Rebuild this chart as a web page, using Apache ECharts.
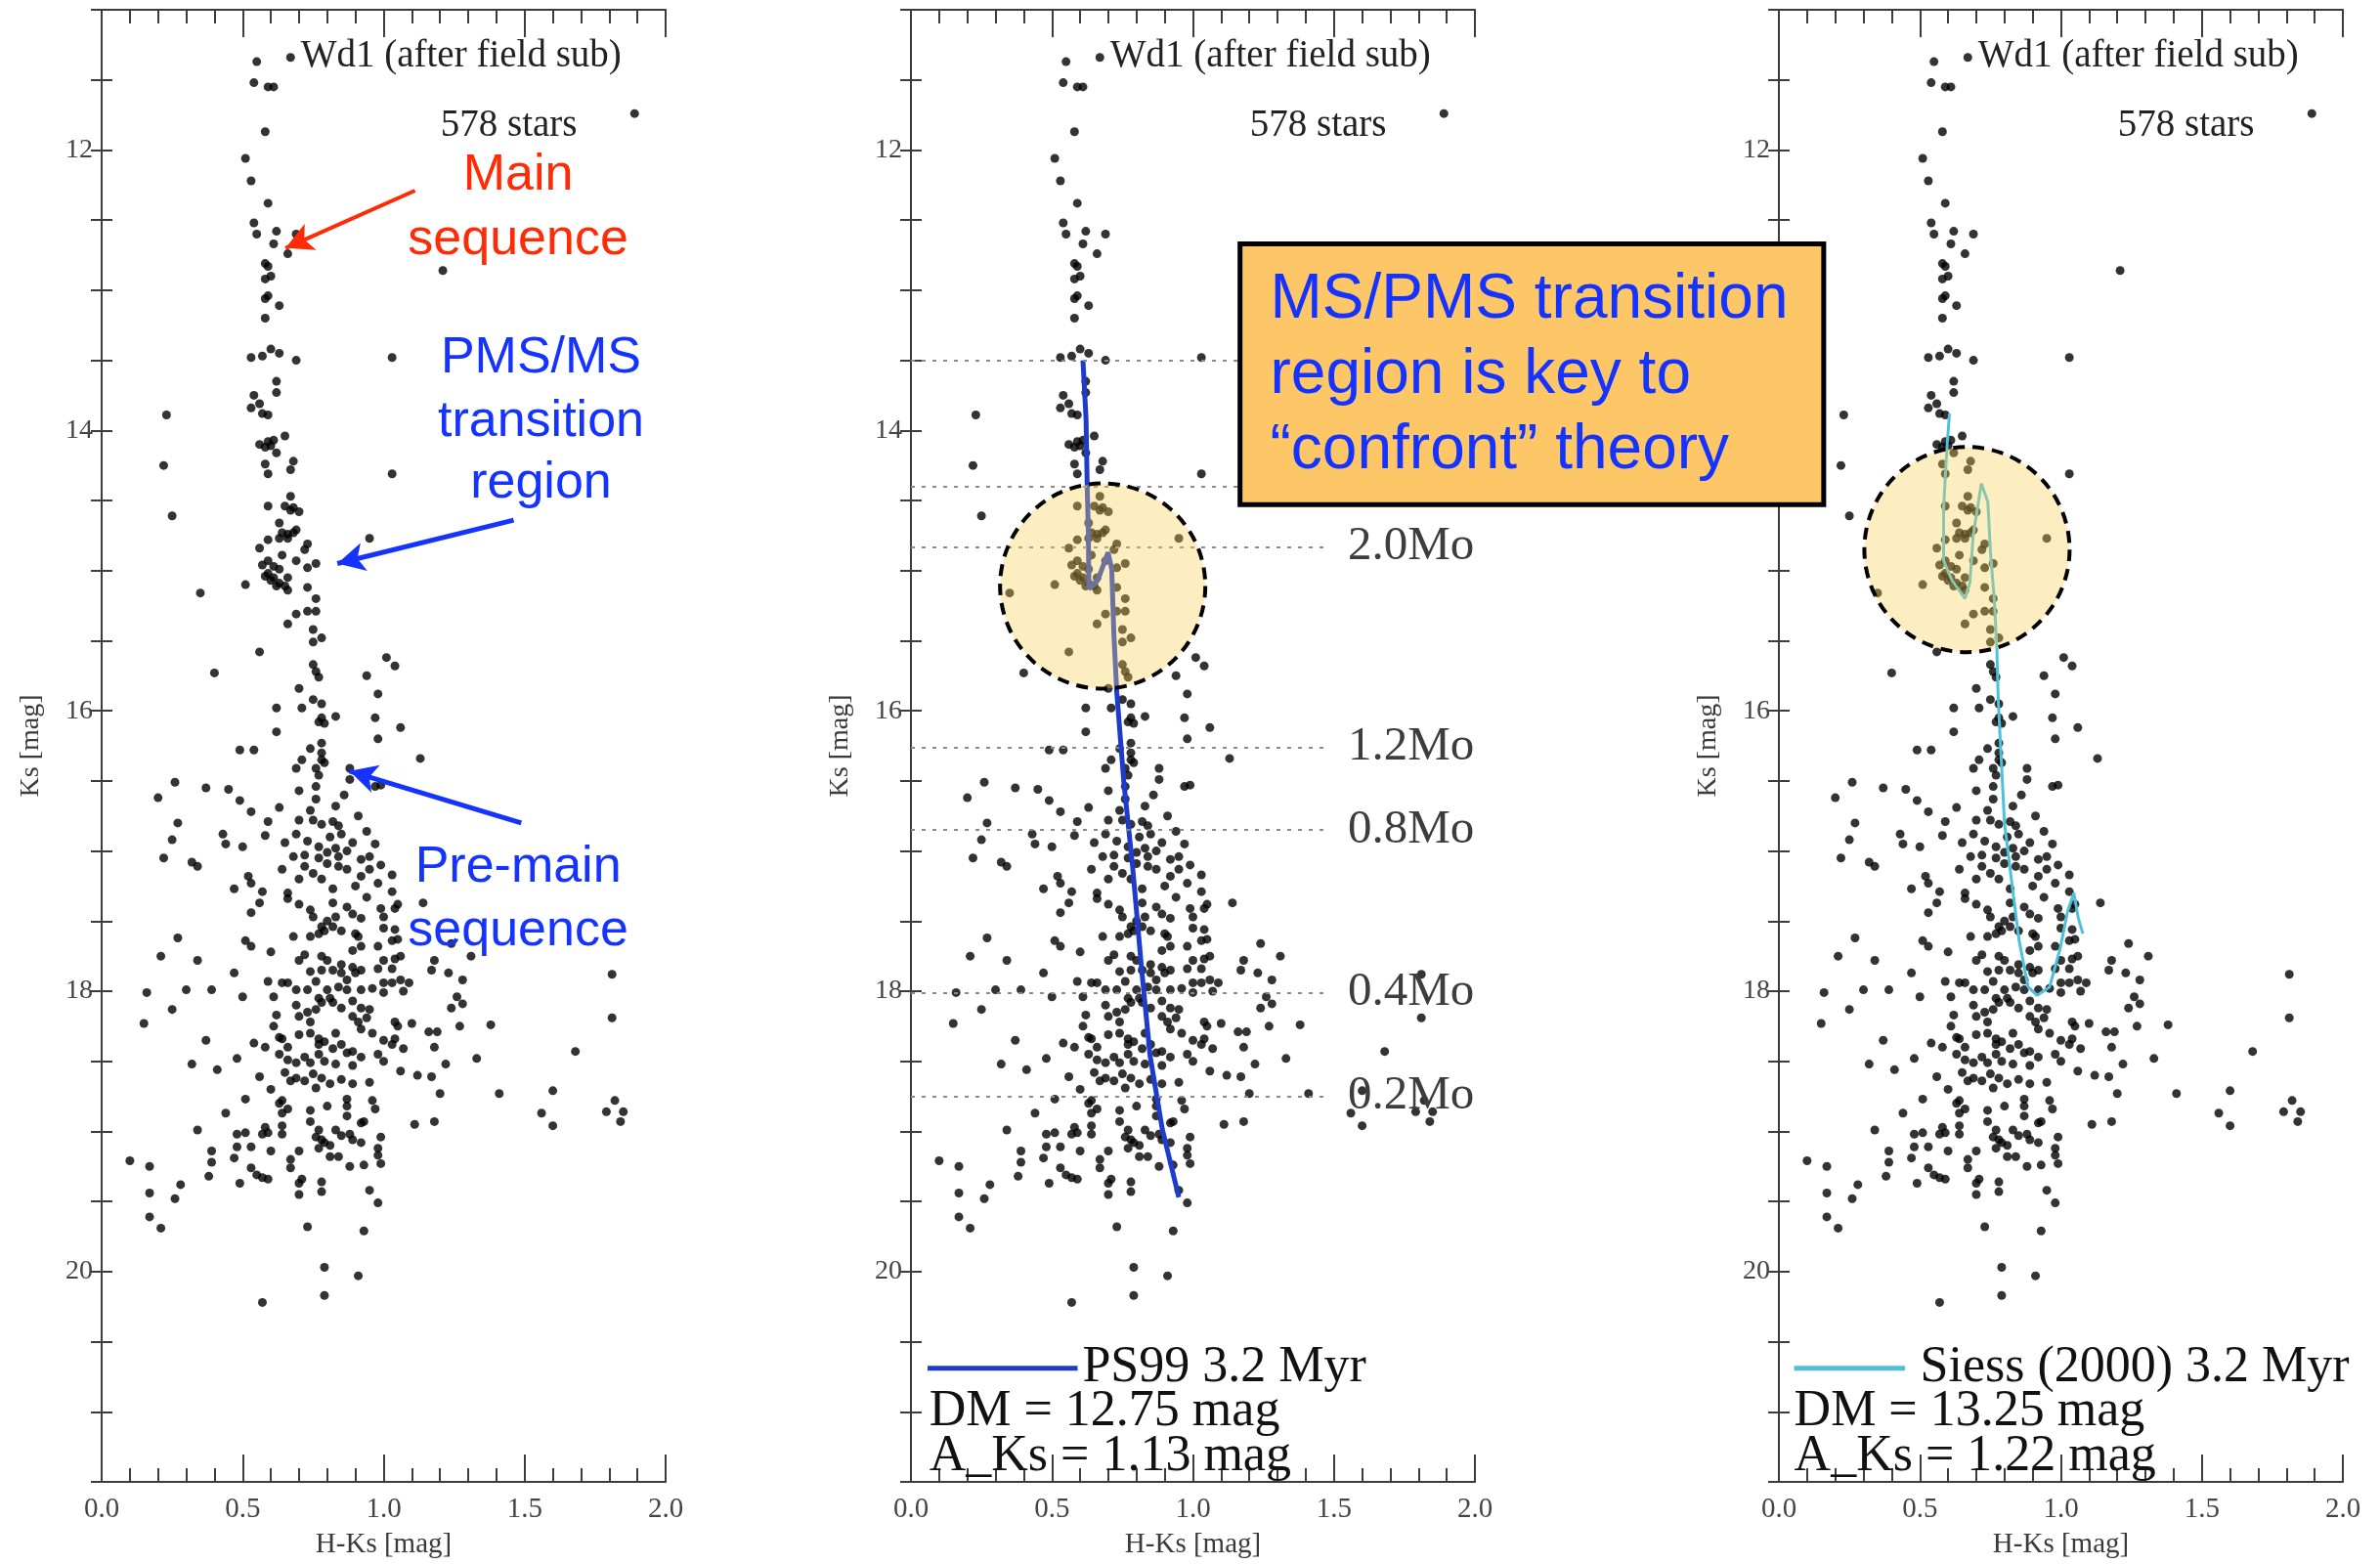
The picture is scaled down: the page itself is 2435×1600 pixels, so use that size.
<!DOCTYPE html>
<html>
<head>
<meta charset="utf-8">
<script src="https://cdn.jsdelivr.net/npm/echarts@6/dist/echarts.min.js"></script>
<style>
  html, body { margin: 0; padding: 0; background: #fff; }
  #main { width: 2435px; height: 1600px; }
</style>
</head>
<body>
<div id="main"></div>
<script>
// Wd1 stars after field subtraction: [H-Ks, Ks]
const stars = [
  [0.55,11.37],[0.67,11.34],[0.54,11.52],[0.59,11.55],[0.61,11.55],[1.89,11.74],[0.58,11.87],[0.51,12.06],
  [0.53,12.22],[0.59,12.38],[0.54,12.52],[0.55,12.60],[0.62,12.58],[0.69,12.60],[0.61,12.67],[0.66,12.74],
  [0.58,12.81],[0.59,12.83],[0.60,12.90],[0.58,12.92],[0.59,13.04],[0.58,13.06],[0.63,13.11],[0.58,13.20],
  [1.21,12.86],[0.53,13.48],[0.57,13.47],[0.60,13.42],[0.63,13.45],[0.69,13.50],[1.03,13.48],[0.62,13.65],
  [0.62,13.73],[0.54,13.75],
  [0.56,13.81],[0.53,13.84],[0.57,13.88],[0.59,13.89],[0.23,13.89],[0.65,14.04],[0.56,14.10],[0.59,14.08],
  [0.61,14.07],[0.60,14.11],[0.62,14.16],[0.58,14.12],[0.22,14.25],[0.58,14.24],[0.59,14.31],[0.68,14.22],
  [0.67,14.28],[1.03,14.31],[0.67,14.47],[0.59,14.54],[0.65,14.54],[0.68,14.55],[0.70,14.58],[0.67,14.57],
  [0.25,14.61],[0.63,14.66],[0.64,14.73],[0.66,14.74],[0.68,14.73],[0.69,14.71],[0.66,14.77],[0.63,14.77],
  [0.59,14.78],[0.95,14.77],[0.73,14.81],[0.72,14.85],[0.56,14.84],[0.64,14.89],[0.59,14.93],[0.57,14.96],
  [0.61,14.97],[0.63,14.99],[0.59,15.02],[0.58,15.04],[0.61,15.05],[0.60,15.07],[0.63,15.09],[0.62,15.11],
  [0.65,15.11],[0.66,15.14],[0.66,15.05],[0.69,14.93],[0.73,14.98],[0.76,14.95],[0.51,15.10],[0.35,15.16],
  [0.73,15.12],[0.76,15.20],[0.69,15.31],[0.73,15.29],[0.76,15.29],[0.66,15.38],[0.75,15.42],[0.78,15.48],
  [0.75,15.51],[0.56,15.58],[1.01,15.62],[1.04,15.68],[0.75,15.67],[0.76,15.72],[0.77,15.76],[0.40,15.73],
  [0.94,15.75],
  [0.70,15.84],[0.98,15.88],[0.62,15.98],[0.71,15.98],[0.75,15.92],[0.78,15.95],[0.78,16.05],[0.79,16.09],
  [0.77,16.08],[0.83,16.04],[0.97,16.05],[1.06,16.12],[0.62,16.15],[0.98,16.20],[0.78,16.23],[0.49,16.28],
  [0.54,16.28],[0.74,16.27],[0.78,16.30],[0.78,16.35],[0.71,16.35],[0.69,16.41],[0.79,16.37],[0.76,16.41],
  [0.77,16.46],[1.13,16.34],[0.88,16.41],[0.88,16.49],[0.97,16.54],[0.99,16.53],[0.26,16.51],[0.37,16.55],
  [0.45,16.56],[0.20,16.62],[0.49,16.64],[0.70,16.57],[0.76,16.54],[0.76,16.63],[0.86,16.60],[0.53,16.72],
  [0.63,16.69],[0.74,16.71],[0.83,16.68],[0.27,16.80],[0.59,16.79],[0.70,16.78],[0.75,16.78],[0.78,16.81],
  [0.82,16.79],[0.84,16.82],[0.91,16.75],[0.25,16.92],[0.43,16.88],[0.44,16.95],[0.50,16.97],[0.58,16.89],
  [0.65,16.94],[0.69,16.88],[0.73,16.93],[0.81,16.90],[0.85,16.88],[0.89,16.94],[0.94,16.86],[0.97,16.95],
  [0.22,17.05],[0.32,17.08],[0.34,17.11],[0.68,17.04],[0.72,17.03],[0.77,16.97],[0.80,17.01],[0.83,16.98],
  [0.87,17.00],[0.77,17.05],[0.84,17.04],[0.80,17.09],[0.92,17.06],[0.95,17.04],[0.99,17.10],[1.03,17.17],
  [0.95,17.13],[0.64,17.13],[0.72,17.11],[0.75,17.16],[0.78,17.20],[0.84,17.11],[0.87,17.13],[0.92,17.18],
  [0.52,17.18],[0.53,17.23],[0.47,17.27],[0.57,17.29],[0.66,17.30],[0.70,17.20],[0.82,17.27],[0.90,17.25],
  [0.98,17.23],[1.03,17.29],
  [1.14,17.37],[0.56,17.37],[0.53,17.44],[0.66,17.34],[0.70,17.38],[0.74,17.42],[0.75,17.47],[0.82,17.37],
  [0.87,17.40],[0.89,17.45],[0.94,17.33],[0.99,17.41],[1.04,17.41],[1.05,17.38],[0.27,17.62],[0.21,17.75],
  [0.34,17.78],[0.51,17.64],[0.53,17.68],[0.60,17.72],[0.68,17.61],[0.74,17.61],[0.77,17.59],[0.78,17.54],
  [0.80,17.50],[0.82,17.54],[0.83,17.47],[0.85,17.57],[0.79,17.57],[0.90,17.59],[0.91,17.61],[0.92,17.48],
  [0.89,17.71],[0.92,17.68],[1.00,17.55],[1.04,17.56],[1.05,17.63],[1.03,17.64],[0.98,17.68],[1.00,17.47],
  [1.24,17.66],[0.70,17.78],[0.72,17.74],[0.78,17.75],[0.80,17.78],[0.85,17.81],[0.89,17.83],[1.18,17.78],
  [1.31,17.75],[1.06,17.75],[1.04,17.77],[1.00,17.78],[1.03,17.84],
  [0.47,17.87],[0.59,17.93],[0.64,17.94],[0.66,17.94],[0.74,17.86],[0.78,17.85],[0.76,17.93],[0.82,17.85],
  [0.85,17.87],[0.87,17.92],[0.90,17.87],[0.92,17.85],[0.98,17.84],[1.00,17.94],[1.03,17.94],[1.06,17.92],
  [1.09,17.94],[1.17,17.85],[1.23,17.87],[1.28,17.92],[1.81,17.88],[0.16,18.01],[0.30,17.99],[0.39,17.99],
  [0.50,18.04],[0.61,18.04],[0.69,17.99],[0.73,17.99],[0.80,17.99],[0.84,17.97],[0.87,17.99],[0.92,17.99],
  [0.96,17.98],[0.77,18.05],[0.81,18.05],[1.00,18.01],[1.07,18.00],[1.26,18.04],[1.28,18.09],[1.24,18.12],
  [0.25,18.13],[0.15,18.23],[0.62,18.17],[0.61,18.25],[0.69,18.10],[0.70,18.18],[0.73,18.15],[0.74,18.22],
  [0.76,18.13],[0.78,18.08],[0.82,18.08],[0.85,18.12],[0.89,18.07],[0.92,18.12],[0.95,18.13],[0.94,18.19],
  [0.91,18.22],[0.92,18.27],[0.89,18.18],[1.04,18.22],[1.05,18.25],[1.10,18.23],[1.16,18.29],[1.19,18.29],
  [1.27,18.25],[1.38,18.24],[1.81,18.19],[0.96,18.30],
  [0.37,18.35],[0.32,18.52],[0.41,18.56],[0.48,18.48],[0.54,18.37],[0.58,18.40],[0.63,18.33],[0.64,18.34],
  [0.63,18.45],[0.66,18.40],[0.70,18.31],[0.74,18.30],[0.77,18.34],[0.77,18.38],[0.79,18.36],[0.83,18.30],
  [0.82,18.41],[0.85,18.38],[0.87,18.44],[0.89,18.43],[0.66,18.49],[0.69,18.51],[0.72,18.47],[0.74,18.51],
  [0.77,18.45],[0.79,18.50],[0.83,18.52],[0.89,18.53],[0.92,18.47],[0.98,18.45],[1.00,18.50],[1.03,18.38],
  [1.04,18.34],[1.07,18.41],[1.00,18.35],[1.18,18.40],[1.22,18.52],[1.33,18.48],[1.68,18.43],[0.65,18.58],
  [0.67,18.64],[0.69,18.62],[0.72,18.64],[0.75,18.59],[0.78,18.62],[0.81,18.66],[0.85,18.63],[0.89,18.66],
  [0.95,18.65],[0.56,18.61],[0.60,18.70],[0.76,18.69],[1.06,18.57],[1.12,18.60],[1.17,18.61],[1.20,18.73],
  [1.41,18.73],[1.60,18.71],[1.82,18.78],[0.51,18.77],[0.64,18.78],[0.87,18.77],[0.96,18.78],
  [0.44,18.87],[0.63,18.80],[0.64,18.87],[0.66,18.84],[0.74,18.85],[0.80,18.82],[0.87,18.82],[0.87,18.89],
  [0.97,18.84],[1.56,18.87],[1.60,18.96],[1.79,18.86],[1.85,18.86],[1.84,18.93],[1.11,18.95],[1.18,18.93],
  [0.34,18.99],[0.48,19.02],[0.51,19.01],[0.48,19.11],[0.53,19.11],[0.57,19.02],[0.58,18.97],[0.59,19.01],
  [0.64,18.96],[0.64,19.02],[0.74,18.93],[0.77,18.99],[0.76,19.04],[0.78,19.06],[0.79,19.08],[0.81,19.10],
  [0.83,18.99],[0.85,19.03],[0.88,19.02],[0.89,19.06],[0.92,18.94],[0.93,18.93],[0.92,19.08],[0.99,19.04],
  [0.98,19.12],[0.98,19.17],[0.99,19.23],[0.10,19.21],[0.17,19.25],[0.39,19.14],[0.39,19.22],[0.38,19.32],
  [0.47,19.19],[0.60,19.14],[0.70,19.14],[0.67,19.20],[0.67,19.26],[0.77,19.12],[0.81,19.18],[0.84,19.18],
  [0.53,19.26],[0.55,19.31],[0.57,19.33],[0.59,19.34],[0.49,19.37],[0.28,19.38],[0.17,19.44],[0.26,19.48],
  [0.70,19.37],[0.71,19.34],[0.70,19.45],[0.78,19.36],[0.78,19.43],[0.88,19.25],[0.93,19.24],[0.95,19.42],
  [0.98,19.51],[0.17,19.61],[0.21,19.69],[0.73,19.68],[0.93,19.71],[0.79,19.97],[0.91,20.03],[0.57,20.22],
  [0.79,20.17]
];

// PS99 3.2 Myr isochrone
const ps99Track = [
  [0.610,13.50],[0.621,13.92],[0.625,14.40],[0.629,14.71],[0.631,15.13],[0.662,15.07],[0.699,14.87],
  [0.712,14.99],[0.720,15.47],[0.730,15.87],[0.755,16.51],[0.786,17.11],[0.817,17.82],[0.848,18.46],
  [0.891,18.98],[0.950,19.47]
];

// Siess (2000) 3.2 Myr isochrone
const siessTrack = [
  [0.605,13.88],[0.596,14.12],[0.584,14.56],[0.584,14.93],[0.614,15.07],[0.660,15.20],[0.677,15.09],
  [0.689,14.75],[0.718,14.38],[0.741,14.51],[0.750,14.86],[0.764,15.21],[0.773,15.56],[0.778,15.93],
  [0.790,16.40],[0.800,16.80],[0.825,17.21],[0.852,17.64],[0.884,17.97],[0.916,18.03],[0.960,17.97],
  [0.997,17.70],[1.024,17.43],[1.046,17.30],[1.062,17.48],[1.078,17.59]
];

// mass levels on the PS99 track
const massKs = [13.5, 14.4, 14.83, 16.26, 16.85, 18.01, 18.75];
const massNames = ['', '', '2.0Mo', '1.2Mo', '0.8Mo', '0.4Mo', '0.2Mo'];

const SERIF = 'Liberation Serif, Times New Roman, serif';
const SANS = 'Liberation Sans, Arial, Helvetica, sans-serif';
const RED = '#ff2a06';
const BLUE = '#1433ff';
const frameColor = '#3c3c3c';
const panelLeft = [104, 932, 1820];

const grids = panelLeft.map(l => ({ left: l, top: 10, width: 577, height: 1507 }));

const xAxes = [];
const yAxes = [];
panelLeft.forEach((l, g) => {
  const base = {
    gridIndex: g, type: 'value', min: 0, max: 2, interval: 0.5,
    axisLine: { show: true, lineStyle: { color: frameColor, width: 2 } },
    axisTick: { show: true, inside: true, length: 28, lineStyle: { color: frameColor, width: 2 } },
    minorTick: { show: true, splitNumber: 5, length: 14, lineStyle: { color: frameColor, width: 2 } },
    splitLine: { show: false }
  };
  xAxes.push(Object.assign({}, base, {
    position: 'bottom',
    name: 'H-Ks [mag]', nameLocation: 'middle', nameGap: 50,
    nameTextStyle: { fontFamily: SERIF, fontSize: 29, color: '#3a3a3a' },
    axisLabel: { fontFamily: SERIF, fontSize: 29, color: '#444', margin: 14,
      formatter: v => v.toFixed(1) }
  }));
  xAxes.push(Object.assign({}, base, { position: 'top', axisLabel: { show: false } }));

  const ybase = {
    gridIndex: g, type: 'value', inverse: true, min: 11, max: 21.5, interval: 0.5,
    axisLine: { show: true, lineStyle: { color: frameColor, width: 2 } },
    axisTick: { show: true, inside: true, length: 11, lineStyle: { color: frameColor, width: 2 } },
    splitLine: { show: false }
  };
  yAxes.push(Object.assign({}, ybase, {
    position: 'left',
    name: 'Ks [mag]', nameLocation: 'middle', nameGap: 58, nameRotate: 90,
    nameTextStyle: { fontFamily: SERIF, fontSize: 28, color: '#3a3a3a' },
    axisLabel: { fontFamily: SERIF, fontSize: 28, color: '#444', margin: 9,
      formatter: v => (v % 2 === 0 ? String(v) : '') }
  }));
  yAxes.push(Object.assign({}, ybase, { position: 'right', axisLabel: { show: false } }));
});

function arrow(from, to, color, width) {
  return [{ coord: from, lineStyle: { color: color, width: width, type: 'solid' } }, { coord: to }];
}

const series = [0, 1, 2].map(p => ({
  type: 'scatter', xAxisIndex: 2 * p, yAxisIndex: 2 * p,
  data: stars, symbolSize: 9, silent: true, animation: false,
  itemStyle: { color: '#000' }, z: 2
}));

// annotation arrows in the first panel
series[0].markLine = {
  silent: true, animation: false, symbol: ['none', 'arrow'], symbolSize: [22, 28],
  lineStyle: { type: 'solid' },
  label: { show: false },
  data: [
    arrow([1.111, 12.29], [0.652, 12.70], RED, 4),
    arrow([1.461, 14.64], [0.836, 14.95], BLUE, 5),
    arrow([1.488, 16.80], [0.879, 16.43], BLUE, 5)
  ]
};

series.push({
  type: 'line', xAxisIndex: 2, yAxisIndex: 2, data: ps99Track,
  showSymbol: false, smooth: false, silent: true, animation: false, z: 3,
  lineStyle: { color: '#1e3ccc', width: 5 },
  markLine: {
    silent: true, animation: false, symbol: ['none', 'none'],
    lineStyle: { color: '#8a8a8a', width: 2, type: [4, 7] },
    data: massKs.map((k, i) => [
      { coord: [0, k], label: { show: massNames[i] !== '', position: 'end', distance: 20,
          formatter: massNames[i], fontFamily: SERIF, fontSize: 49, color: '#3d3d3d' } },
      { coord: [1.48, k] }
    ])
  }
});

series.push({
  type: 'line', xAxisIndex: 4, yAxisIndex: 4, data: siessTrack,
  showSymbol: false, smooth: false, silent: true, animation: false, z: 3,
  lineStyle: { color: '#4fc0dc', width: 3 }
});

const chart = echarts.init(document.getElementById('main'), null, { renderer: 'canvas' });
chart.setOption({
  backgroundColor: '#fff',
  animation: false,
  grid: grids,
  xAxis: xAxes,
  yAxis: yAxes,
  series: series
});

function px(p, x, y) { return chart.convertToPixel({ seriesIndex: p }, [x, y]); }

function label(p, x, y, s, font, color, align, z) {
  const a = px(p, x, y);
  return {
    type: 'text', z: z || 40,
    style: { x: a[0], y: a[1], text: s, font: font, fill: color,
      textAlign: align || 'left', textVerticalAlign: 'middle' }
  };
}

const els = [];
for (let p = 0; p < 3; p++) {
  els.push(label(p, 0.706, 11.33, 'Wd1 (after field sub)', '39px ' + SERIF, '#222'));
  els.push(label(p, 1.202, 11.83, '578 stars', '39px ' + SERIF, '#222'));
}

// first panel labels
const annoFont = '52px ' + SANS;
els.push(label(0, 1.477, 12.18, 'Main', annoFont, RED, 'center'));
els.push(label(0, 1.477, 12.64, 'sequence', annoFont, RED, 'center'));
els.push(label(0, 1.558, 13.49, 'PMS/MS', annoFont, BLUE, 'center'));
els.push(label(0, 1.558, 13.94, 'transition', annoFont, BLUE, 'center'));
els.push(label(0, 1.558, 14.38, 'region', annoFont, BLUE, 'center'));
els.push(label(0, 1.477, 17.12, 'Pre-main', annoFont, BLUE, 'center'));
els.push(label(0, 1.477, 17.57, 'sequence', annoFont, BLUE, 'center'));

// highlight circles
[[1, 0.68, 15.11], [2, 0.667, 14.85]].forEach(c => {
  const a = px(c[0], c[1], c[2]);
  els.push({
    type: 'circle', z: 30, shape: { cx: a[0], cy: a[1], r: 105 },
    style: { fill: 'rgba(250,208,83,0.36)', stroke: '#000', lineWidth: 4, lineDash: [12, 8] }
  });
});

// legends
const legFont = '52px ' + SERIF;
[[1, 0.059, 0.591, 0.608, '#1e3ccc', 'PS99 3.2 Myr', 'DM = 12.75 mag', 'A_Ks = 1.13 mag', 0.065],
 [2, 0.054, 0.447, 0.501, '#4fc0dc', 'Siess (2000) 3.2 Myr', 'DM = 13.25 mag', 'A_Ks = 1.22 mag', 0.054]
].forEach(L => {
  const a = px(L[0], L[1], 20.69), b = px(L[0], L[2], 20.69);
  els.push({ type: 'line', z: 40, shape: { x1: a[0], y1: a[1], x2: b[0], y2: b[1] },
    style: { stroke: L[4], lineWidth: 5 } });
  els.push(label(L[0], L[3], 20.69, L[5], legFont, '#111'));
  els.push(label(L[0], L[8], 21.0, L[6], legFont, '#111'));
  els.push(label(L[0], L[8], 21.32, L[7], legFont, '#111'));
});

// key message box
const tl = px(1, 1.167, 12.67), br = px(1, 3.237, 14.53);
els.push({
  type: 'rect', z: 60,
  shape: { x: tl[0], y: tl[1], width: br[0] - tl[0], height: br[1] - tl[1] },
  style: { fill: '#fdc767', stroke: '#000', lineWidth: 5 }
});
const boxFont = '64px ' + SANS;
els.push(label(1, 1.274, 13.07, 'MS/PMS transition', boxFont, BLUE, 'left', 61));
els.push(label(1, 1.274, 13.61, 'region is key to', boxFont, BLUE, 'left', 61));
els.push(label(1, 1.274, 14.15, '\u201cconfront\u201d theory', boxFont, BLUE, 'left', 61));

chart.setOption({ graphic: { elements: els } });
</script>
</body>
</html>
